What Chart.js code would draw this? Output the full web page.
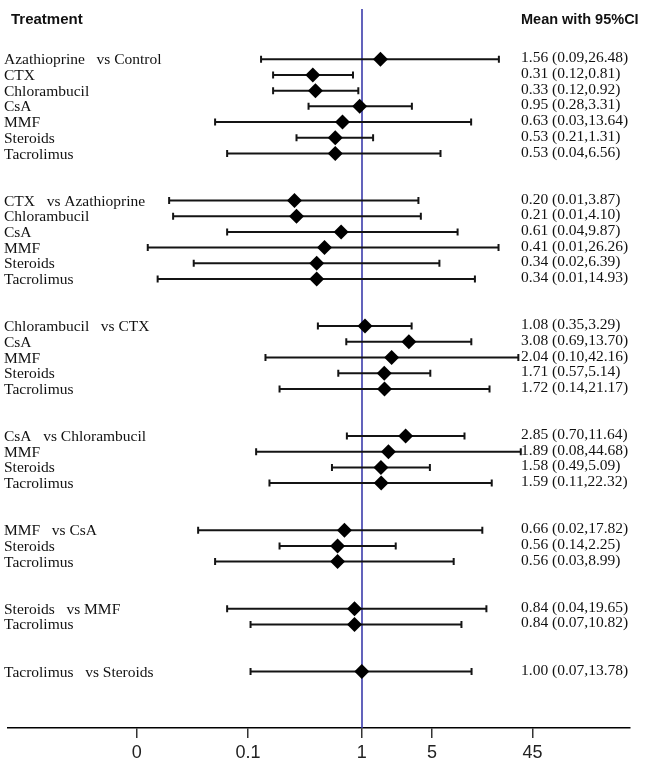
<!DOCTYPE html>
<html>
<head>
<meta charset="utf-8">
<title>Forest plot - pairwise comparisons</title>
<script src="https://cdn.jsdelivr.net/npm/chart.js@4.4.1/dist/chart.umd.min.js"></script>
<style>
  html, body { margin: 0; padding: 0; background: #fff; }
  canvas { display: block; }
</style>
</head>
<body>
<canvas id="forestChart" width="650" height="760"></canvas>
<script>
// comparator of each block and the treatments compared against it
const comparators = ["Control", "Azathioprine", "CTX", "Chlorambucil", "CsA", "MMF", "Steroids"];
const treatments = [
  ["Azathioprine", "CTX", "Chlorambucil", "CsA", "MMF", "Steroids", "Tacrolimus"],
  ["CTX", "Chlorambucil", "CsA", "MMF", "Steroids", "Tacrolimus"],
  ["Chlorambucil", "CsA", "MMF", "Steroids", "Tacrolimus"],
  ["CsA", "MMF", "Steroids", "Tacrolimus"],
  ["MMF", "Steroids", "Tacrolimus"],
  ["Steroids", "Tacrolimus"],
  ["Tacrolimus"]
];

// estimates with 95% CI, one entry per row, top to bottom
const means = [1.56, 0.31, 0.33, 0.95, 0.63, 0.53, 0.53,
  0.20, 0.21, 0.61, 0.41, 0.34, 0.34,
  1.08, 3.08, 2.04, 1.71, 1.72,
  2.85, 1.89, 1.58, 1.59,
  0.66, 0.56, 0.56,
  0.84, 0.84,
  1.00];
const lower = [0.09, 0.12, 0.12, 0.28, 0.03, 0.21, 0.04,
  0.01, 0.011, 0.04, 0.006, 0.018, 0.0076,
  0.35, 0.69, 0.10, 0.57, 0.14,
  0.70, 0.08, 0.49, 0.11,
  0.02, 0.14, 0.03,
  0.04, 0.07,
  0.07];
const upper = [26.48, 0.81, 0.92, 3.31, 13.64, 1.31, 6.56,
  3.87, 4.10, 9.87, 26.26, 6.39, 14.93,
  3.29, 13.70, 42.16, 5.14, 21.17,
  11.64, 44.68, 5.09, 22.32,
  17.82, 2.25, 8.99,
  19.65, 10.82,
  13.78];

// x-axis ticks as they sit on the original axis
const tickValues = [0.0046, 0.066, 1, 5.35, 59];
const tickLabels = ["0", "0.1", "1", "5", "45"];

const INK = "#141414";

// build rows: two blank rows between blocks
const rows = [];
let k = 0;
treatments.forEach((list, g) => {
  list.forEach((name, i) => {
    rows.push({ label: i === 0 ? name + "   vs " + comparators[g] : name, y: k });
    k++;
  });
  k += 2;
});

const whiskers = rows.map((r, i) => ({
  data: [{ x: lower[i], y: r.y }, { x: upper[i], y: r.y }],
  showLine: true,
  borderColor: INK,
  borderWidth: 2,
  pointStyle: "line",
  rotation: 90,
  pointRadius: 3.5,
  pointBorderWidth: 2,
  pointBorderColor: INK,
  order: 1
}));

const diamonds = {
  data: rows.map((r, i) => ({ x: means[i], y: r.y })),
  pointStyle: "rectRot",
  pointRadius: 7.5,
  pointBackgroundColor: "#000",
  pointBorderColor: "#000",
  pointBorderWidth: 0,
  showLine: false,
  order: 0
};

// reference line at 1 and all the text columns
const forestText = {
  id: "forestText",
  beforeDatasetsDraw(chart) {
    const { ctx, chartArea, scales: { x } } = chart;
    const px = Math.round(x.getPixelForValue(1));
    ctx.save();
    ctx.strokeStyle = "#3b3bab";
    ctx.lineWidth = 1.6;
    ctx.beginPath();
    ctx.moveTo(px, chartArea.top);
    ctx.lineTo(px, chartArea.bottom);
    ctx.stroke();
    ctx.restore();
  },
  afterDraw(chart) {
    const { ctx, scales: { y } } = chart;
    ctx.save();
    ctx.fillStyle = "#111";
    ctx.textBaseline = "middle";
    ctx.font = "bold 15px 'Liberation Sans', Arial, sans-serif";
    ctx.fillText("Treatment", 11, 20);
    ctx.font = "bold 14.5px 'Liberation Sans', Arial, sans-serif";
    ctx.fillText("Mean with 95%CI", 521, 20);

    ctx.font = "15.5px 'Liberation Serif', 'Times New Roman', serif";
    rows.forEach((r, i) => {
      const py = y.getPixelForValue(r.y);
      ctx.fillText(r.label, 4, py + 1);
      const txt = means[i].toFixed(2) + " (" + lower[i].toFixed(2) + "," + upper[i].toFixed(2) + ")";
      ctx.fillText(txt, 521, py - 1);
    });
    ctx.restore();
  }
};

new Chart(document.getElementById("forestChart").getContext("2d"), {
  type: "scatter",
  data: { datasets: [diamonds, ...whiskers] },
  options: {
    responsive: false,
    animation: false,
    events: [],
    layout: { padding: { top: 9, left: 3, right: 20, bottom: 0 } },
    plugins: { legend: { display: false }, tooltip: { enabled: false } },
    scales: {
      x: {
        type: "logarithmic",
        min: 2.1e-4,
        max: 608,
        afterBuildTicks: (s) => { s.ticks = tickValues.map(v => ({ value: v })); },
        afterFit: (s) => { s.height = 32; },
        border: { display: true, color: "#000", width: 1.5 },
        grid: { drawOnChartArea: false, drawTicks: true, tickLength: 10, color: "#333", lineWidth: 1.5 },
        ticks: {
          autoSkip: false,
          maxRotation: 0,
          padding: 4,
          color: "#222",
          font: { family: "'Liberation Sans', Arial, sans-serif", size: 18 },
          callback: (v, i) => tickLabels[i]
        }
      },
      y: {
        type: "linear",
        reverse: true,
        min: -3.2,
        max: 42.6,
        display: false
      }
    }
  },
  plugins: [forestText]
});
</script>
</body>
</html>
